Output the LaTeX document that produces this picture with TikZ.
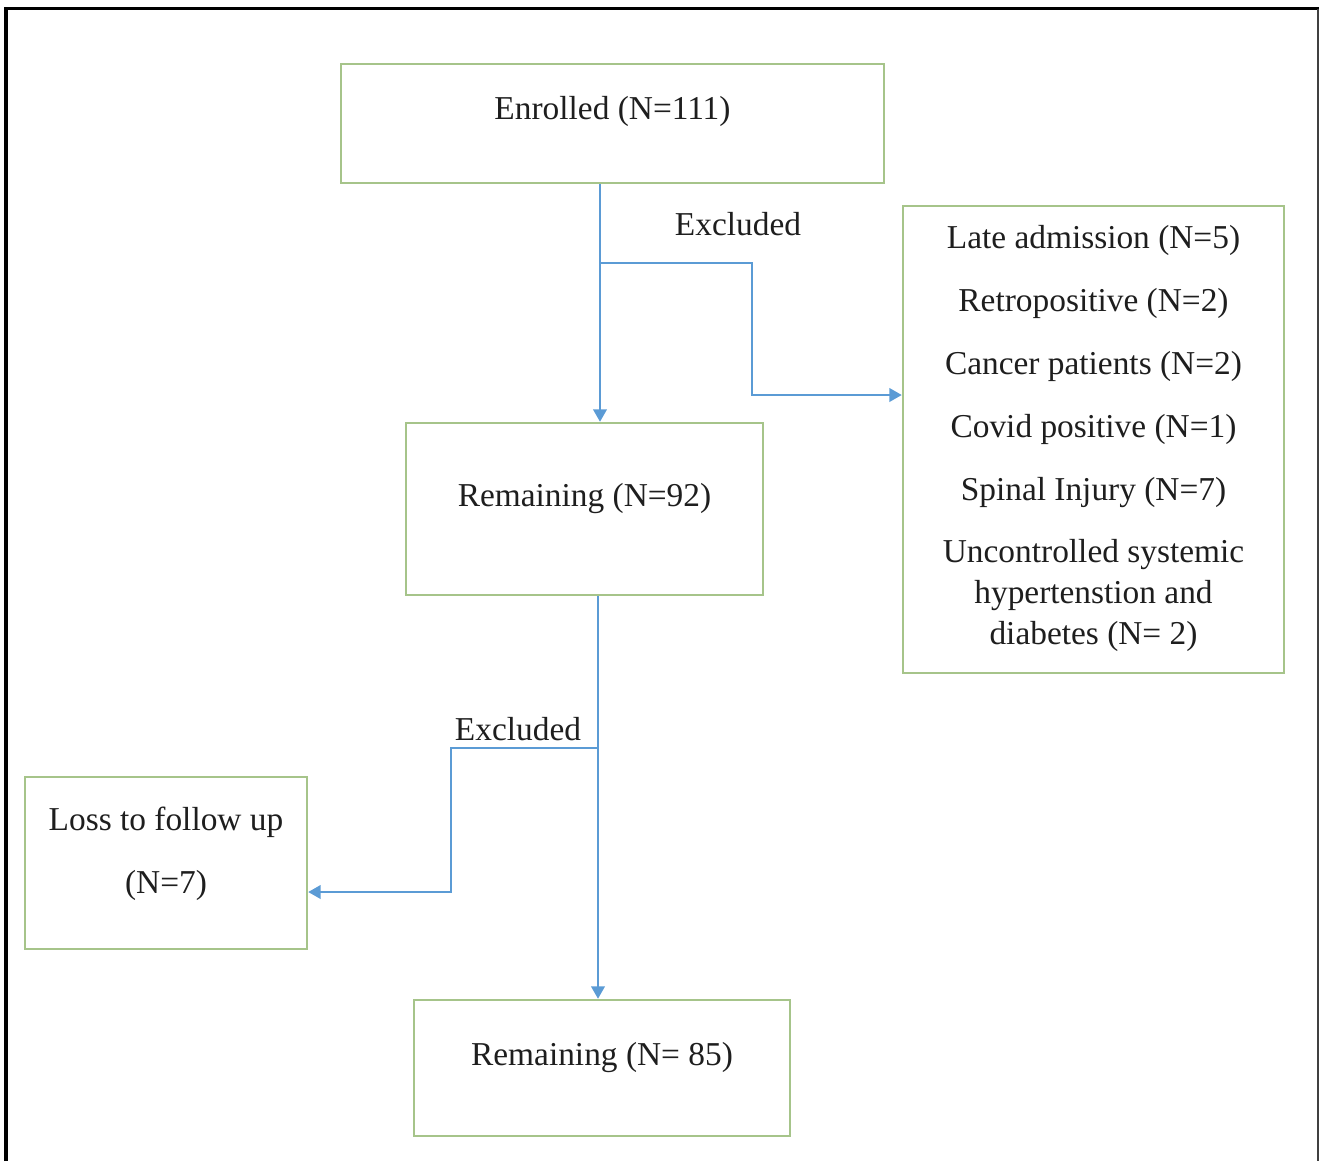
\documentclass[tikz,border=0pt]{standalone}
\usepackage{fontspec}
\setmainfont{Liberation Serif}
\usetikzlibrary{arrows.meta}
\definecolor{BoxGreen}{HTML}{A6C48A}
\definecolor{FlowBlue}{HTML}{5B9BD5}
\definecolor{Ink}{HTML}{1E1E1E}
\tikzset{
  stage/.style={
    draw=BoxGreen, line width=1.4pt, fill=white, inner sep=0pt
  },
  stagetext/.style={
    text=Ink, font=\fontsize{19}{23.3}\selectfont, align=center
  },
  flow/.style={-{Triangle[length=2.5mm,width=2.7mm]}, line width=1.4pt, draw=FlowBlue}
}

\begin{document}
\begin{tikzpicture}[x=0.02cm,y=-0.02cm]
        \useasboundingbox (0,0) rectangle (1319,1161);
        % page frame
        \draw[line width=2.2pt] (6,1161) -- (6,8.5) -- (1319,8.5);
        \draw[line width=0.8pt,black!75] (1318,8.5) -- (1318,1161);
        % boxes
        \node[stage,minimum width=10.86cm,minimum height=2.38cm,
              label={[stagetext,yshift=0.24cm]center:Enrolled (N=111)}] (enrolled) at (612.5,123.5) {};
        \node[stage,minimum width=7.14cm,minimum height=3.44cm,
              label={[stagetext,yshift=0.2cm]center:Remaining (N=92)}] (remain1) at (584.5,509) {};
        \node[stage,minimum width=7.62cm,minimum height=9.34cm,
              label={[stagetext,yshift=0.02cm]center:Late admission (N=5)\\[0.44cm]
                Retropositive (N=2)\\[0.44cm] Cancer patients (N=2)\\[0.44cm]
                Covid positive (N=1)\\[0.44cm] Spinal Injury (N=7)\\[0.44cm]
                Uncontrolled systemic\\ hypertenstion and\\ diabetes (N= 2)}] (reasons) at (1093.5,439.5) {};
        \node[stage,minimum width=5.64cm,minimum height=3.44cm,
              label={[stagetext,yshift=0.18cm]center:Loss to follow up\\[0.44cm] (N=7)}] (loss) at (166,863) {};
        \node[stage,minimum width=7.52cm,minimum height=2.72cm,
              label={[stagetext,yshift=0.2cm]center:Remaining (N= 85)}] (remain2) at (602,1068) {};
        % branch points
        \coordinate (split1) at (600,263);
        \coordinate (bend1) at (752,395);
        \coordinate (split2) at (598,748);
        \coordinate (bend2) at (451,892);
        \draw[flow] (split1 |- enrolled.south) -- (split1 |- remain1.north);
        \draw[flow] (split1) -| (bend1) -- (bend1 -| reasons.west);
        \draw[flow] (split2 |- remain1.south) -- (split2 |- remain2.north);
        \draw[flow] (split2) -| (bend2) -- (bend2 -| loss.east);
        \node[stagetext] (excl1) at (738,224) {Excluded};
        \node[stagetext] (excl2) at (518,729) {Excluded};
      \end{tikzpicture}
\end{document}
